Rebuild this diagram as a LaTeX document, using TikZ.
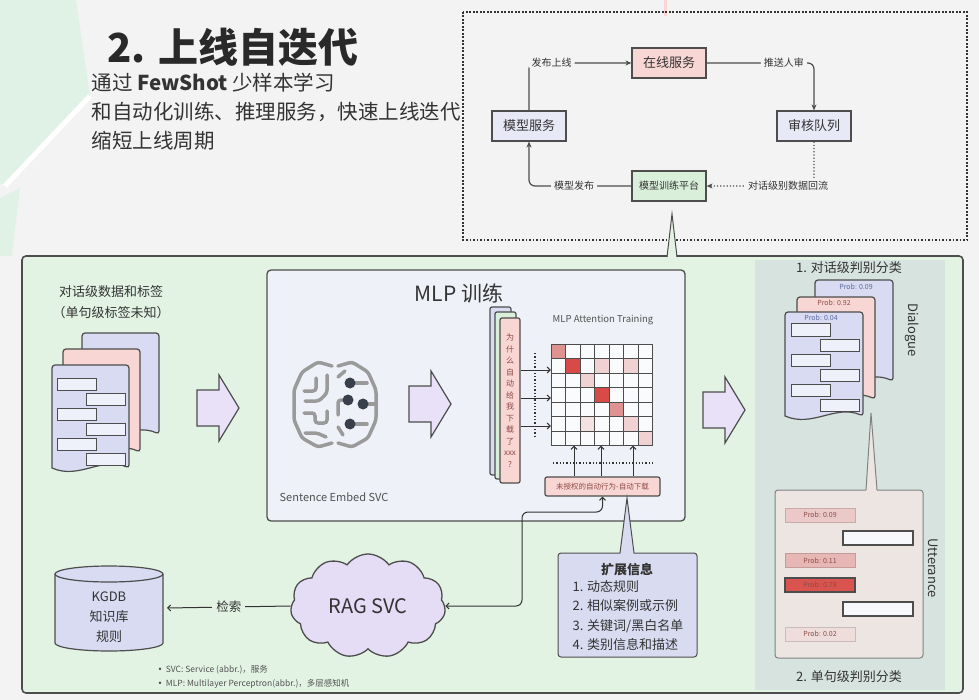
\documentclass[tikz,border=0pt]{standalone}
\usepackage{fontspec}
\setmainfont{Noto Sans CJK SC}
\newfontfamily\symfont{DejaVu Sans}
\usetikzlibrary{arrows.meta,shapes.symbols,positioning}

\definecolor{bg}{HTML}{F3F3F4}
\definecolor{ink}{HTML}{333333}
\definecolor{edge}{HTML}{4D4D4D}
\definecolor{softgreen}{HTML}{E0F2E6}
\definecolor{panelgreen}{HTML}{E2F3E3}
\definecolor{lav}{HTML}{D8DBF1}
\definecolor{rose}{HTML}{F8D6D3}
\definecolor{mint}{HTML}{D9EFDA}
\definecolor{mlpbg}{HTML}{EEF1F7}
\definecolor{arrowfill}{HTML}{E9E1F8}
\definecolor{sidepanel}{HTML}{D7E3DE}
\definecolor{uttbg}{HTML}{ECE5E2}
\definecolor{extbg}{HTML}{D9DCF1}
\definecolor{cloudbg}{HTML}{E5DCF5}
\definecolor{braingray}{HTML}{9A9A9A}
\definecolor{braindot}{HTML}{3A3F4C}
\definecolor{redtext}{HTML}{8E4B48}
\definecolor{bluetext}{HTML}{5B68A0}
\definecolor{hot}{HTML}{D84A47}
\definecolor{warm}{HTML}{DE9390}
\definecolor{mild}{HTML}{EFD2D1}
\definecolor{faint}{HTML}{F2E2E2}
\definecolor{barfill}{HTML}{EEF0FA}
\definecolor{p09}{HTML}{EAC9C8}
\definecolor{p11}{HTML}{E7B7B5}
\definecolor{p78}{HTML}{D9534F}
\definecolor{p02}{HTML}{EEDDDB}

\newcommand{\fs}[2]{\fontsize{#1}{#2}\selectfont}

% one page of a document stack, wavy bottom
\newcommand{\docpage}[5]{% fill, x1, y1, x2, y2
  \draw[line, fill=#1] (#2,#5) [rounded corners=3pt] -- (#2,#3) -- (#4,#3) -- (#4,#5) [sharp corners]
    .. controls ({#2+0.65*(#4-#2)},#5-12) and ({#2+0.35*(#4-#2)},#5+12) .. (#2,#5) -- cycle;}
% six text bars on the front page
\newcommand{\docbars}[2]{%
  \foreach \i in {0,1,2} {
    \draw[bar] (#1,{#2+\i*30}) rectangle ++(39,12);
    \draw[bar] (#1+29,{#2+15+\i*30}) rectangle ++(39,12);
  }}
% fat block arrow
\newcommand{\fatarrow}[2]{%
  \draw[line, fill=arrowfill] (#1,#2-18) -- (#1+22,#2-18) -- (#1+22,#2-33) -- (#1+42,#2)
    -- (#1+22,#2+33) -- (#1+22,#2+18) -- (#1,#2+18) -- cycle;}

\tikzset{
  line/.style={draw=edge, line width=1.2pt},
  flowbox/.style={line, minimum width=74pt, minimum height=30pt, inner sep=2pt, text=ink, font=\fs{13}{15}},
  flowlbl/.style={fill=bg, inner sep=3pt, text=ink, font=\fs{10}{12}},
  flow/.style={line, rounded corners=6pt, -{Stealth[length=6pt,width=5pt]}},
  tip/.style={draw=ink, line width=1pt, -{Straight Barb[length=3pt,width=6pt]}},
  tips/.style={draw=ink, line width=1pt, {Straight Barb[length=3pt,width=6pt]}-{Straight Barb[length=3pt,width=6pt]}},
  bar/.style={draw=edge, line width=1pt, fill=barfill},
  probbox/.style={draw=#1!85!black, line width=0.6pt, fill=#1, minimum width=70pt, minimum height=14pt,
    inner sep=0pt, text=redtext, font=\fs{7}{8}},
  blankbar/.style={line, fill=barfill!50!white, minimum width=70pt, minimum height=14pt, inner sep=0pt},
  note/.style={text=ink, font=\fs{13}{21}},
  brain/.style={draw=braingray, line width=3.5pt, line cap=round, line join=round, rounded corners=3pt},
}

\begin{document}
\begin{tikzpicture}[x=1pt, y=-1pt]
  \useasboundingbox (0,0) rectangle (979,700);
  \fill[bg] (0,0) rectangle (979,700);
  % background decoration
  \fill[softgreen] (0,0) -- (76,0) -- (90,96) -- (5,184) -- (0,184) -- cycle;
  \fill[softgreen] (0,198) -- (20,188) -- (12,256) -- (0,256) -- cycle;
  \draw[white, line width=5pt] (90,96) -- (5,186);
  \draw[rose, line width=3pt] (665,0) -- (665,16);
  %
  % title
  \node[anchor=west, text=ink!80!black, font=\fs{40}{44}\bfseries] (title) at (104,47) {2. 上线自迭代};
  \node[anchor=north west, align=left, text=ink, font=\fs{20.5}{29}] (intro) at (88,70)
    {通过 \textbf{FewShot} 少样本学习\\和自动化训练、推理服务，快速上线迭代\\缩短上线周期};
  %
  % iteration loop
  \draw[draw=ink, line width=1.6pt, dash pattern=on 1.6pt off 1.9pt] (463,12) rectangle (967,240);
  \node[flowbox, fill=rose] (online) at (669,63) {在线服务};
  \node[flowbox, fill=lav!60!white] (msvc) at (529,126) {模型服务};
  \node[flowbox, fill=lav!60!white] (review) at (814,126) {审核队列};
  \node[flowbox, fill=mint, font=\fs{10}{12}] (train) at (669,186) {模型训练平台};
  \draw[flow] (msvc.north) |- (online.west) node[flowlbl, pos=0.61] {发布上线};
  \draw[flow] (online.east) -| (review.north) node[flowlbl, pos=0.36] {推送人审};
  \draw[flow, dotted] (review.south) |- (train.east) node[flowlbl, pos=0.62] {对话级别数据回流};
  \draw[flow] (train.west) -| (msvc.south) node[flowlbl, pos=0.28] {模型发布};
  %
  % main panel
  \draw[draw=edge, line width=1.6pt, fill=panelgreen, rounded corners=4pt] (22,256) rectangle (963,693);
  \fill[panelgreen] (667,259) -- (672,214) -- (677,259) -- cycle;
  \draw[draw=edge, line width=1pt] (667,257) -- (672,214) -- (677,257);
  %
  % conversation data
  \node[note, align=center] (data) at (111,302) {对话级数据和标签\\（单句级标签未知）};
  \docpage{lav}{82}{333}{159}{434}
  \docpage{rose}{63}{349}{140}{452}
  \docpage{lav}{52}{365}{129}{468}
  \docbars{57}{378}
  \fatarrow{197}{408}
  %
  % MLP training
  \draw[line, line width=1.3pt, fill=mlpbg, rounded corners=4pt] (267,270) rectangle (685,521);
  \node[text=ink, font=\fs{21}{24}] (mlptitle) at (459,293) {MLP 训练};
  % brain icon
  \begin{scope}[shift={(335,405)}]
    \draw[brain] (-3,-39) -- (-17,-43) -- (-33,-33) -- (-41,-15) -- (-41,15) -- (-33,33) -- (-17,42) -- (-3,38);
    \draw[brain] (3,-39) -- (17,-43) -- (33,-33) -- (41,-15) -- (41,15) -- (33,33) -- (17,42) -- (3,38);
    \draw[brain] (-31,-14) -- (-19,-14) -- (-19,-27);
    \draw[brain] (-8,-30) -- (-8,-12) -- (-16,-4) -- (-30,-4);
    \draw[brain] (-31,8) -- (-20,8) -- (-20,18) -- (-8,18) -- (-8,6);
    \draw[brain] (-30,28) -- (-18,28) -- (-9,32);
    \draw[brain] (3,-28) -- (10,-34);
    \draw[brain] (15,-22) -- (32,-22);
    \draw[brain] (13,-5) -- (3,-5) -- (3,10);
    \draw[brain] (28,-1) -- (41,-1);
    \draw[brain] (15,19) -- (32,19);
    \draw[brain] (3,22) -- (8,30);
    \foreach \p in {(15,-22), (13,-5), (28,-1), (15,19)}
      \fill[braindot] \p circle[radius=5.5];
  \end{scope}
  \node[text=ink!85, font=\fs{11}{13}] (embed) at (334,497) {Sentence Embed SVC};
  \fatarrow{409}{404}
  % query strip
  \draw[line, fill=lav, rounded corners=2pt] (490,307) rectangle (511,475);
  \draw[line, fill=mint, rounded corners=2pt] (495,312) rectangle (516,479);
  \node[line, fill=rose, rounded corners=2pt, minimum width=20pt, minimum height=165pt, inner sep=0pt,
    align=center, text=redtext, font=\fs{8}{11.5}] (query) at (510,400.5)
    {为\\什\\么\\自\\动\\给\\我\\下\\载\\了\\xxx\\?};
  % attention matrix
  \node[text=ink!85, font=\fs{9.5}{11}] (attnlbl) at (603,320) {MLP Attention Training};
  \node[minimum width=101.5pt, minimum height=101.5pt, inner sep=0pt, fill=white!70!mlpbg] (attn) at (601.75,394.75) {};
  \foreach \c/\r/\col in {0/0/warm, 1/1/hot, 3/1/mild, 5/1/mild, 2/2/mild, 3/3/hot, 4/4/warm,
      2/5/faint, 5/5/mild, 6/6/mild}
    \fill[\col] ({551+\c*14.5},{344+\r*14.5}) rectangle ++(14.5,14.5);
  \foreach \i in {0,...,7} {
    \draw[draw=edge, line width=0.8pt] ({551+\i*14.5},344) -- ({551+\i*14.5},445.5);
    \draw[draw=edge, line width=0.8pt] (551,{344+\i*14.5}) -- (652.5,{344+\i*14.5});
  }
  \draw[draw=ink, line width=1.2pt, dash pattern=on 1.3pt off 2pt] (535,353) -- (535,438);
  \foreach \yy in {370,398,426}
    \draw[tip] (query.east |- 0,\yy) -- (attn.west |- 0,\yy);
  \node[line, fill=rose, rounded corners=2pt, minimum width=115pt, minimum height=19pt, inner sep=1pt,
    text=redtext, font=\fs{7.5}{9}] (unauth) at (602.5,486.5) {未授权的自动行为-自动下载};
  \draw[draw=ink, line width=1.2pt, dash pattern=on 1.3pt off 2pt] (553,463) -- (653,463);
  \foreach \xx in {574,601,633}
    \draw[tip] (\xx,0 |- unauth.north) -- (\xx,0 |- attn.south);
  \fatarrow{703}{410}
  %
  % classification side
  \fill[sidepanel] (755,260) rectangle (945,690);
  \node[text=ink, font=\fs{13}{15}] (clf1) at (849,268) {1. 对话级判别分类};
  \node[text=ink, font=\fs{13}{15}] (clf2) at (849,677) {2. 单句级判别分类};
  \docpage{lav}{815}{280}{893}{381}
  \docpage{rose}{797}{297}{875}{399}
  \docpage{lav}{785}{312}{863}{416}
  \node[text=bluetext, font=\fs{7}{8}] (pd1) at (856,287) {Prob: 0.09};
  \node[text=redtext, font=\fs{7}{8}] (pd2) at (834,303) {Prob: 0.92};
  \node[text=bluetext, font=\fs{7}{8}] (pd3) at (821,318) {Prob: 0.04};
  \docbars{791}{324}
  \node[rotate=-90, text=ink, font=\fs{13}{15}] (dlg) at (912,330) {Dialogue};
  % utterance callout
  \node[line, line width=1pt, draw=edge!70, fill=uttbg, rounded corners=3pt, minimum width=148pt, minimum height=168pt] (utt) at (849,574) {};
  \fill[uttbg] (866,493) -- (871,413) -- (877,493) -- cycle;
  \draw[draw=edge!70, line width=1pt] (866,490) -- (871,413) -- (877,490);
  \node[probbox=p09] (u1) at (820,515) {Prob: 0.09};
  \node[blankbar] (u2) at (878,538) {};
  \node[probbox=p11] (u3) at (820,560.5) {Prob: 0.11};
  \node[probbox=p78, draw=edge, line width=1.2pt] (u4) at (820,585) {Prob: 0.78};
  \node[blankbar] (u5) at (878,609) {};
  \node[probbox=p02] (u6) at (820,634) {Prob: 0.02};
  \node[rotate=-90, text=ink, font=\fs{13}{15}] (utter) at (933,568) {Utterance};
  %
  % extra info callout
  \node[line, line width=1pt, fill=extbg, rounded corners=3pt, minimum width=139pt, minimum height=104pt] (ext) at (627.5,605) {};
  \fill[extbg] (620,556) -- (627,498) -- (634,556) -- cycle;
  \draw[draw=edge, line width=1pt] (620,553) -- (627,498) -- (634,553);
  \node[text=ink, font=\fs{13}{15}\bfseries] (exttitle) at (627,570) {扩展信息};
  \node[anchor=north west, align=left, text=ink, font=\fs{13}{19.3}] (extlist) at (569,577)
    {1. 动态规则\\2. 相似案例或示例\\3. 关键词/黑白名单\\4. 类别信息和描述};
  %
  % retrieval
  \draw[line, fill=lav] (55,574) -- (55,643) arc[start angle=180, end angle=0, x radius=54, y radius=8] -- (163,574);
  \draw[line, fill=lav] (109,574) ellipse[x radius=54, y radius=8];
  \node[align=center, text=ink, font=\fs{13}{20}] (kgdb) at (109,617) {KGDB\\知识库\\规则};
  \coordinate (kgdbR) at (167,608);
  \node[cloud, cloud puffs=11, cloud puff arc=110, aspect=1.6, line, line width=1.3pt, fill=cloudbg,
    minimum width=155pt, minimum height=104pt, text=ink, font=\fs{20}{24}] (rag) at (368,606) {RAG SVC};
  \draw[tip] (rag.west) -- (kgdbR) node[midway, fill=panelgreen, inner sep=4pt, font=\fs{12.5}{14}, text=ink] {检索};
  \draw[tips, rounded corners=6pt] (rag.east) -| (522,512) -| (unauth.south);
  \node[anchor=north west, align=left, text=ink!85, font=\fs{8.5}{14}] (notes) at (154,662)
    {{\symfont •}\, SVC: Service (abbr.)，服务\\{\symfont •}\, MLP: Multilayer Perceptron(abbr.)，多层感知机};
\end{tikzpicture}
\end{document}
